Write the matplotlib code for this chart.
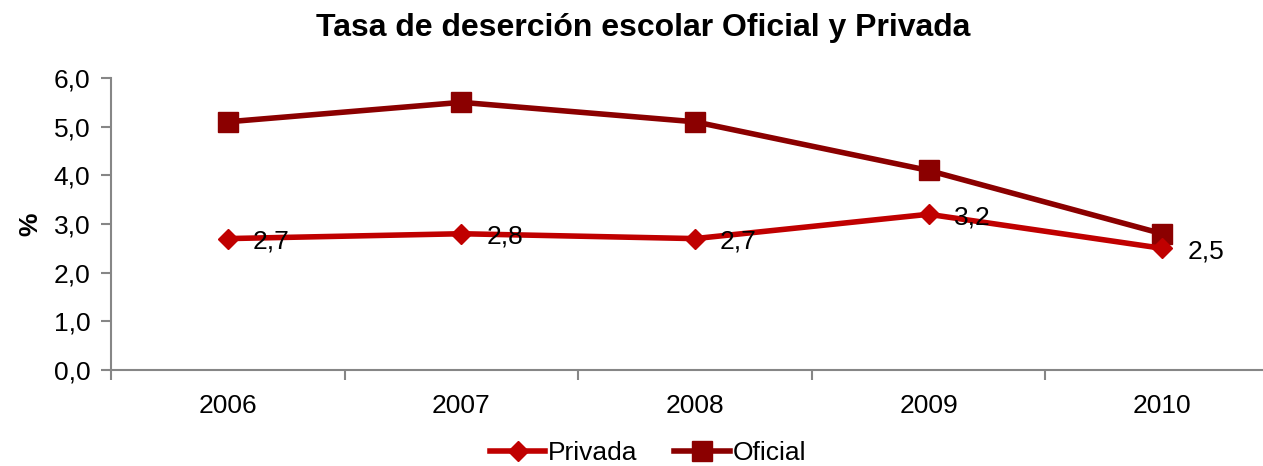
import matplotlib
matplotlib.use("Agg")
import matplotlib.pyplot as plt
import numpy as np

plt.rcParams['font.family'] = ['Liberation Sans', 'DejaVu Sans']

years = ["2006", "2007", "2008", "2009", "2010"]
privada = [2.7, 2.8, 2.7, 3.2, 2.5]
oficial = [5.1, 5.5, 5.1, 4.1, 2.8]
yticks = [0, 1, 2, 3, 4, 5, 6]

W, H = 1263, 466
fig = plt.figure(figsize=(W / 100, H / 100), dpi=100)
ax = fig.add_axes([111 / W, (H - 370) / H, (1279 - 111) / W, 292 / H])

x = np.arange(len(years))
c_priv = "#C00000"
c_of = "#8B0000"
ax.plot(x, privada, color=c_priv, lw=4, marker="D", ms=10, label="Privada", zorder=3)
ax.plot(x, oficial, color=c_of, lw=4, marker="s", ms=14, label="Oficial", zorder=2)

for xi, v in zip(x, privada):
    ax.annotate(f"{v:.1f}".replace(".", ","), (xi, v), xytext=(18, -2),
                textcoords="offset points", ha="left", va="center", fontsize=19, color="black")

ax.set_xlim(-0.5, len(years) - 0.5)
ax.set_ylim(0, 6)
ax.set_yticks(yticks)
ax.set_yticklabels([f"{t:.1f}".replace(".", ",") for t in yticks], fontsize=19)
ax.set_xticks(x)
ax.set_xticklabels(years, fontsize=19)
ax.set_xticks(np.arange(-0.5, len(years), 1), minor=True)
ax.tick_params(axis="x", which="major", length=0, pad=17)
ax.tick_params(axis="x", which="minor", length=7, color="#868686", width=1.5, direction="out")
ax.tick_params(axis="y", length=7, color="#868686", width=1.5, direction="out", pad=8)

for s in ["top", "right"]:
    ax.spines[s].set_visible(False)
for s in ["left", "bottom"]:
    ax.spines[s].set_color("#868686")
    ax.spines[s].set_linewidth(1.5)

ax.set_ylabel("%", fontsize=19, fontweight="bold", labelpad=8)
fig.text(0.5 * (317 + 970) / W, 1 - 28 / H, "Tasa de deserción escolar Oficial y Privada",
         ha="center", va="center", fontsize=23, fontweight="bold")

fig.legend(loc="center", bbox_to_anchor=(648 / W, 1 - 453 / H), ncol=2, frameon=False,
           fontsize=19, handlelength=2.1, handletextpad=0.1, columnspacing=1.4,
           borderpad=0)

fig.savefig("out.png", dpi=100)
